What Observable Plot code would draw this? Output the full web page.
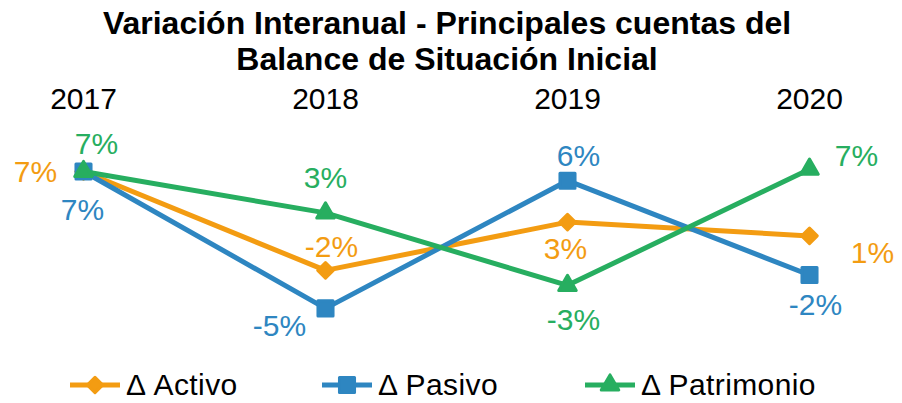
<!DOCTYPE html>
<html><head><meta charset="utf-8">
<script src="https://cdn.jsdelivr.net/npm/d3@7"></script>
<script src="https://cdn.jsdelivr.net/npm/@observablehq/plot@0.6"></script>
<style>
body{margin:0;width:902px;height:403px;overflow:hidden;background:#fff;font-family:"Liberation Sans",Arial,sans-serif;position:relative}
#title{position:absolute;top:5px;left:0;width:894px;text-align:center;font-weight:bold;font-size:32px;line-height:36px;color:#000}
#chart{position:absolute;top:78px;left:0}
.leg{position:absolute;top:372px;display:flex;align-items:center;font-size:30px;line-height:26px;letter-spacing:0.4px;color:#000;white-space:nowrap}
.leg svg{margin-right:6px;overflow:visible}
</style></head><body>
<div id="title">Variación Interanual - Principales cuentas del<br>Balance de Situación Inicial</div>
<div id="chart"></div>
<div id="legend"></div>
<script>
// ---- data ----
const years = ["2017", "2018", "2019", "2020"];
const seriesNames = ["Δ Activo", "Δ Pasivo", "Δ Patrimonio"];
const activo = [7.0, -1.6, 2.6, 1.4];
const pasivo = [7.0, -4.9, 6.2, -2.0];
const patrimonio = [7.0, 3.4, -2.9, 7.2];

// ---- styles ----
const values = [activo, pasivo, patrimonio];
const colors = ["#F39C12", "#2E86C1", "#27AE60"];
const symbols = ["diamond2", "square", "triangle"];
const symbolR = [7, 8.5, 6.5];
const d3symbols = [d3.symbolDiamond2, d3.symbolSquare, d3.symbolTriangle];
const labelOffsets = [
  [[-48, 0], [6, -24], [-2, 26], [63, 16]],
  [[-1, 38], [-46, 17], [11, -25], [6, 29]],
  [[13, -28], [0, -36], [6, 34], [47, -14]]
];
const legendLeft = [70, 322, 585];

const rows = [];
seriesNames.forEach((s, i) => years.forEach((y, j) => rows.push({series: s, year: y, value: values[i][j], si: i, yi: j})));

const marks = [Plot.axisX({anchor: "top", tickSize: 0, tickPadding: 3, fontSize: 30, label: null})];
seriesNames.forEach((s, i) => {
  const d = rows.filter(r => r.si === i);
  marks.push(Plot.line(d, {x: "year", y: "value", stroke: colors[i], strokeWidth: 5, strokeLinejoin: "round"}));
  marks.push(Plot.dot(d, {x: "year", y: "value", symbol: symbols[i], r: symbolR[i], fill: colors[i], stroke: colors[i], strokeWidth: 3, strokeLinejoin: "round"}));
});
seriesNames.forEach((s, i) => {
  rows.filter(r => r.si === i).forEach((r, j) => {
    marks.push(Plot.text([r], {x: "year", y: "value", text: d => `${Math.round(d.value)}%`, fill: colors[i], fontSize: 30, dx: labelOffsets[i][j][0], dy: labelOffsets[i][j][1] + 1}));
  });
});

const chart = Plot.plot({
  width: 902, height: 287,
  marginTop: 33, marginLeft: 0, marginRight: 0, marginBottom: 0,
  x: {type: "point", domain: years, range: [82, 810], padding: 0},
  y: {domain: [-8, 9], range: [265.5, 70], axis: null},
  style: {fontFamily: "'Liberation Sans', Arial, sans-serif", color: "#000", background: "transparent", overflow: "visible"},
  marks
});
document.getElementById("chart").appendChild(chart);

// ---- legend ----
const legend = document.getElementById("legend");
seriesNames.forEach((s, i) => {
  const item = document.createElement("div");
  item.className = "leg";
  item.style.left = legendLeft[i] + "px";
  const path = d3.symbol(d3symbols[i], Math.PI * symbolR[i] * symbolR[i])();
  item.innerHTML = `<svg width="50" height="20"><line x1="0" x2="50" y1="10" y2="10" stroke="${colors[i]}" stroke-width="5"/><path transform="translate(25,10)" d="${path}" fill="${colors[i]}" stroke="${colors[i]}" stroke-width="3" stroke-linejoin="round"/></svg><span>${s}</span>`;
  legend.appendChild(item);
});
</script>
</body></html>
